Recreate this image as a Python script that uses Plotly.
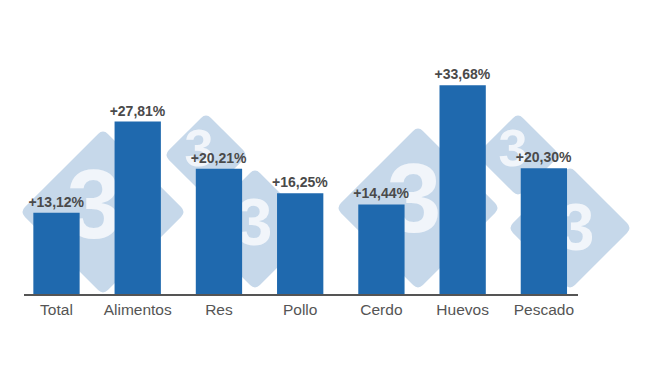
import plotly.graph_objects as go

categories = ["Total", "Alimentos", "Res", "Pollo", "Cerdo", "Huevos", "Pescado"]
values = [13.12, 27.81, 20.21, 16.25, 14.44, 33.68, 20.30]
labels = ["+" + f"{v:.2f}".replace(".", ",") + "%" for v in values]

BAR_COLOR = "#1f69ae"
WM_COLOR = "#c6d8ea"
WM_TEXT = "#f1f5fa"

# plot area in pixels
L, R, T, B = 24, 578, 40, 294
W, H = R - L, B - T


def px(x):
    return (x - L) / W


def py(y):
    return (B - y) / H


def diamond_path(cx, cy, r, rad=7):
    pts = [(cx, cy - r), (cx + r, cy), (cx, cy + r), (cx - r, cy)]
    t = rad / (r * 1.4142)
    segs = []
    n = len(pts)
    for i in range(n):
        v = pts[i]
        prev = pts[i - 1]
        nxt = pts[(i + 1) % n]
        pin = (v[0] + (prev[0] - v[0]) * t, v[1] + (prev[1] - v[1]) * t)
        pout = (v[0] + (nxt[0] - v[0]) * t, v[1] + (nxt[1] - v[1]) * t)
        cmd = "M" if i == 0 else "L"
        segs.append(f"{cmd}{px(pin[0]):.4f},{py(pin[1]):.4f}")
        segs.append(f"Q{px(v[0]):.4f},{py(v[1]):.4f} {px(pout[0]):.4f},{py(pout[1]):.4f}")
    return " ".join(segs) + " Z"


# watermark decoration (pixel layout)
wm_diamonds = [(103, 212, 83), (206, 155, 42), (255, 229, 61),
               (418, 208, 82), (518, 155, 42), (570, 228, 62)]
wm_digits_x = [94, 199, 254, 414, 513, 576]
wm_digits_y = [213, 153, 228, 207, 153, 233]
wm_digits_size = [98, 52, 66, 98, 52, 66]

shapes = [dict(type="path", path=diamond_path(cx, cy, r), xref="paper", yref="paper",
               fillcolor=WM_COLOR, line=dict(width=0), layer="below")
          for cx, cy, r in wm_diamonds]

fig = go.Figure()

fig.add_trace(go.Scatter(
    x=wm_digits_x, y=wm_digits_y, mode="text", text=["3"] * len(wm_digits_x),
    textposition="middle center", cliponaxis=False, hoverinfo="skip",
    textfont=dict(family="Liberation Sans", size=wm_digits_size, color=WM_TEXT, weight="bold"),
    xaxis="x", yaxis="y", showlegend=False))

fig.add_trace(go.Bar(
    x=categories, y=values, text=labels, textposition="outside", cliponaxis=False,
    constraintext="none",
    marker=dict(color=BAR_COLOR, line=dict(width=0)), width=0.57,
    textfont=dict(family="Liberation Sans", size=14, color="#4a4a4a", weight="bold"),
    xaxis="x2", yaxis="y2", showlegend=False))

fig.update_layout(
    width=650, height=366,
    margin=dict(l=L, r=650 - R, t=T, b=366 - B, pad=0),
    paper_bgcolor="white", plot_bgcolor="rgba(0,0,0,0)",
    shapes=shapes,
    xaxis=dict(range=[L, R], visible=False, fixedrange=True),
    yaxis=dict(range=[B, T], visible=False, fixedrange=True),
    xaxis2=dict(overlaying="x", anchor="y2", type="category", range=[-0.4, 6.42],
                showline=True, linecolor="#555555", linewidth=2, showgrid=False,
                ticks="", tickfont=dict(family="Liberation Sans", size=15.5, color="#555555")),
    yaxis2=dict(overlaying="y", anchor="x2", range=[0, H / 6.2], visible=False,
                showgrid=False, zeroline=False),
    font=dict(family="Liberation Sans"),
)

fig.write_html("out.html")
